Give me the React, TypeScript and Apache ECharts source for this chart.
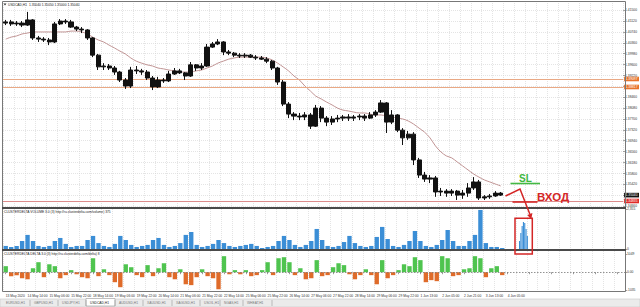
import { useEffect, useRef } from 'react';
import * as echarts from 'echarts';

const timeLabels = [
  '13 May 2020', '14 May 14:00', '15 May 06:00', '15 May 22:00', '18 May 14:00', '19 May 06:00',
  '19 May 22:00', '20 May 14:00', '21 May 06:00', '21 May 22:00', '22 May 14:00', '25 May 06:00',
  '25 May 22:00', '26 May 14:00', '27 May 06:00', '27 May 22:00', '28 May 14:00', '29 May 06:00',
  '29 May 22:00', '1 Jun 13:00', '2 Jun 05:00', '2 Jun 21:00', '3 Jun 13:00', '4 Jun 05:00',
];

// grid / tick positions of the price scale
const priceTicks = [
  1.3466, 1.3504, 1.3542, 1.358, 1.3618, 1.3656, 1.3694, 1.3732, 1.377, 1.3808,
  1.3846, 1.3884, 1.3922, 1.396, 1.3998, 1.4036, 1.4074, 1.4112, 1.415,
];
// visible price labels (1.38840 and 1.35040 are covered by the level tags)
const priceLabels = [
  1.3466, 1.3542, 1.358, 1.3618, 1.3656, 1.3694, 1.3732, 1.377, 1.3808,
  1.3846, 1.3922, 1.396, 1.3998, 1.4036, 1.4074, 1.4112, 1.415,
];

// [open, close, low, high]
const candles = [
  [1.4105, 1.4109, 1.4098, 1.4116], [1.4109, 1.4102, 1.4095, 1.4116], [1.4102, 1.4105, 1.4095, 1.4112],
  [1.4105, 1.4098, 1.4091, 1.4112], [1.4098, 1.4116, 1.4095, 1.4144], [1.4116, 1.4053, 1.4046, 1.4119],
  [1.4053, 1.4049, 1.4039, 1.406], [1.4049, 1.4046, 1.4039, 1.4056], [1.4046, 1.4039, 1.4028, 1.4053],
  [1.4039, 1.4102, 1.4035, 1.4109], [1.4102, 1.4112, 1.4098, 1.4119], [1.4112, 1.4109, 1.4102, 1.4119],
  [1.4109, 1.4091, 1.4088, 1.4116], [1.4091, 1.4084, 1.4077, 1.4095], [1.4084, 1.4081, 1.407, 1.4091],
  [1.4081, 1.4053, 1.4046, 1.4084], [1.4053, 1.3993, 1.3986, 1.4056], [1.3993, 1.3952, 1.3941, 1.3997],
  [1.3952, 1.3955, 1.3941, 1.3965], [1.3955, 1.3948, 1.3941, 1.3962], [1.3948, 1.3934, 1.3924, 1.3955],
  [1.3934, 1.3906, 1.3899, 1.3938], [1.3906, 1.3885, 1.3875, 1.3913], [1.3885, 1.3941, 1.3878, 1.3952],
  [1.3941, 1.3938, 1.3927, 1.3955], [1.3938, 1.3934, 1.3924, 1.3945], [1.3934, 1.3913, 1.3906, 1.3941],
  [1.3913, 1.3882, 1.3871, 1.392], [1.3882, 1.3906, 1.3878, 1.3917], [1.3906, 1.3903, 1.3896, 1.3913],
  [1.3903, 1.3927, 1.3899, 1.3938], [1.3927, 1.3938, 1.3924, 1.3948], [1.3938, 1.3931, 1.3927, 1.3945],
  [1.3931, 1.392, 1.3906, 1.3934], [1.392, 1.3959, 1.3917, 1.3969], [1.3959, 1.3948, 1.3938, 1.3962],
  [1.3948, 1.3955, 1.3941, 1.3965], [1.3955, 1.4021, 1.3952, 1.4032], [1.4021, 1.4032, 1.4018, 1.4039],
  [1.4032, 1.4039, 1.4028, 1.4049], [1.4039, 1.4004, 1.3993, 1.4042], [1.4004, 1.4, 1.3993, 1.4011],
  [1.4, 1.3993, 1.3986, 1.4004], [1.3993, 1.399, 1.3983, 1.4], [1.399, 1.3993, 1.3983, 1.4],
  [1.3993, 1.3986, 1.3983, 1.3997], [1.3986, 1.3983, 1.3976, 1.3993], [1.3983, 1.3979, 1.3976, 1.399],
  [1.3979, 1.3972, 1.3965, 1.3986], [1.3972, 1.3948, 1.3941, 1.3976], [1.3948, 1.3899, 1.3889, 1.3952],
  [1.3899, 1.3822, 1.3815, 1.3906], [1.3822, 1.3787, 1.3773, 1.3829], [1.3787, 1.378, 1.3766, 1.3794],
  [1.378, 1.3777, 1.3766, 1.3791], [1.3777, 1.3784, 1.3766, 1.3794], [1.3784, 1.3745, 1.3735, 1.3791],
  [1.3745, 1.3808, 1.3742, 1.3819], [1.3808, 1.3773, 1.3759, 1.3815], [1.3773, 1.3759, 1.3745, 1.378],
  [1.3759, 1.377, 1.3749, 1.378], [1.377, 1.3773, 1.3759, 1.3784], [1.3773, 1.3777, 1.3763, 1.3784],
  [1.3777, 1.3773, 1.3763, 1.3787], [1.3773, 1.3777, 1.3763, 1.3784], [1.3777, 1.378, 1.3766, 1.3787],
  [1.378, 1.3773, 1.3763, 1.3787], [1.3773, 1.3784, 1.377, 1.3794], [1.3784, 1.3794, 1.3777, 1.3801],
  [1.3794, 1.3826, 1.3791, 1.3836], [1.3826, 1.3759, 1.3721, 1.3829], [1.3759, 1.3784, 1.3752, 1.3801],
  [1.3784, 1.3731, 1.3724, 1.3787], [1.3731, 1.3704, 1.3679, 1.3738], [1.3704, 1.3717, 1.3697, 1.3728],
  [1.3717, 1.3627, 1.3609, 1.3724], [1.3627, 1.3574, 1.3564, 1.3634], [1.3574, 1.356, 1.355, 1.3585],
  [1.356, 1.3564, 1.3546, 1.3574], [1.3564, 1.3515, 1.3498, 1.3571], [1.3515, 1.3518, 1.3501, 1.3529],
  [1.3518, 1.3511, 1.3498, 1.3525], [1.3511, 1.3518, 1.3501, 1.3525], [1.3518, 1.3504, 1.3487, 1.3522],
  [1.3504, 1.3511, 1.3491, 1.3522], [1.3511, 1.3529, 1.3498, 1.3546], [1.3529, 1.355, 1.3522, 1.3567],
  [1.355, 1.3494, 1.3487, 1.3557], [1.3494, 1.3498, 1.3487, 1.3504], [1.3498, 1.3501, 1.3491, 1.3508],
  [1.3501, 1.3511, 1.3498, 1.3518], [1.3511, 1.3504, 1.3501, 1.3515],
];

const maValues = [
  1.4049, 1.4056, 1.406, 1.4067, 1.407, 1.4074, 1.4074, 1.4074, 1.4074, 1.4074,
  1.4074, 1.4074, 1.4077, 1.4077, 1.4074, 1.4067, 1.4056, 1.4046, 1.4039, 1.4028,
  1.4018, 1.4007, 1.3997, 1.3983, 1.3972, 1.3965, 1.3959, 1.3955, 1.3948, 1.3945,
  1.3941, 1.3938, 1.3934, 1.3934, 1.3934, 1.3938, 1.3941, 1.3948, 1.3955, 1.3965,
  1.3972, 1.3979, 1.3983, 1.3986, 1.3986, 1.3986, 1.3986, 1.3986, 1.3983, 1.3976,
  1.3965, 1.3952, 1.3938, 1.392, 1.3906, 1.3885, 1.3868, 1.385, 1.384, 1.3829,
  1.3819, 1.3808, 1.3801, 1.3798, 1.3794, 1.3791, 1.3791, 1.3787, 1.3784, 1.3784,
  1.378, 1.3777, 1.3773, 1.377, 1.3763, 1.3752, 1.3738, 1.3724, 1.3704, 1.3676,
  1.3655, 1.3641, 1.3634, 1.362, 1.3606, 1.3592, 1.3578, 1.3567, 1.3557, 1.355,
  1.3543, 1.3536,
];

const volumeValues = [
  180, 120, 180, 470, 830, 470, 180, 120, 180, 470,
  650, 300, 120, 180, 180, 530, 770, 350, 180, 120,
  300, 770, 530, 240, 120, 180, 240, 530, 650, 240,
  120, 180, 350, 830, 1000, 240, 120, 180, 300, 530,
  350, 180, 120, 180, 240, 300, 180, 60, 120, 180,
  470, 770, 530, 240, 120, 240, 470, 1180, 530, 180,
  120, 180, 410, 770, 350, 180, 120, 180, 710, 1300,
  590, 180, 120, 240, 470, 1060, 470, 180, 120, 240,
  530, 1120, 470, 180, 180, 470, 830, 2300, 350, 120,
  120, 60,
];

const deltaValues = [
  350, -230, -170, -350, -410, 230, 580, -290, 460, 350,
  -350, -170, 120, -120, -290, -350, 810, -230, 170, -170,
  -580, -870, 460, 290, -170, -290, 410, -230, 230, 520,
  -290, -410, 170, -700, -750, -290, 170, -230, -350, -990,
  930, -120, 120, -120, 120, -230, -170, 120, 580, -170,
  810, 870, 580, -170, 230, -410, -350, 700, -230, -170,
  290, 520, 410, -120, -410, -170, 170, -170, -700, 700,
  -350, -170, 120, 460, 350, 870, 700, -580, -460, -520,
  930, 810, -230, -170, 170, 230, 930, 810, -290, 230,
  350, -170,
];

const volumeTicks = [0, 2355];
const deltaTicks = [-1035, 0, 1049];
const upperLevel = 1.39097;
const lowerLevel = 1.38817;
const entryLevel = 1.34835;
const bidPrice = 1.3504;
const tabNames = ['EURUSD,H1', 'GBPUSD,H1', 'USDJPY,H1', 'USDCAD,H1', 'AUDUSD,H1', 'XAUUSD,H1', 'XAGUSD,H1', 'USOIL,H1', 'NGAS,H1', 'WHEAT,H1'];
const tabStarts = [2, 30, 58, 86, 115, 143, 172, 200, 220, 243, 272];
const activeTab = 3;
const annotBarTops = [241, 233, 226, 222, 223, 229, 236];

const SLOTS = 114;
const FONT = '"Liberation Sans", Arial, sans-serif';
const FS = 3.3;

export default function App() {
  const ref = useRef<HTMLDivElement>(null);
  useEffect(() => {
    const chart = echarts.init(ref.current!, null, { renderer: 'svg' });
    const slots = Array.from({ length: SLOTS }, (_, i) => String(i));
    const gridLine = { color: '#d2d2d2', width: 0.6, type: [1, 1] as number[] };

    const xAxes = [0, 1, 2].map((i) => ({
      type: 'category',
      gridIndex: i,
      data: slots,
      boundaryGap: true,
      axisLine: { show: false },
      axisTick: i === 2
        ? { show: true, interval: 3, alignWithLabel: true, length: 2, lineStyle: { color: '#555', width: 0.6 } }
        : { show: false },
      axisLabel: i === 2
        ? {
            show: true, interval: 3, fontSize: FS, color: '#333', fontFamily: FONT, align: 'left', margin: 3,
            formatter: (_v: string, idx: number) => timeLabels[idx / 4] ?? '',
          }
        : { show: false },
      splitLine: { show: true, interval: 1, lineStyle: gridLine },
    }));

    const labelCommon = { fontSize: FS, color: '#333', fontFamily: FONT, margin: 2 };

    const markLabel = (text: string, bg: string) => ({
      show: true, position: 'end', formatter: text, backgroundColor: bg, color: '#fff',
      fontSize: FS, fontFamily: FONT, padding: [0.8, 1.5], distance: 1,
    });

    const graphics: any[] = [
      { type: 'rect', z: 50, silent: true, shape: { x: 2.5, y: 1.5, width: 623, height: 290 }, style: { fill: 'none', stroke: '#777', lineWidth: 1 } },
      { type: 'line', z: 50, silent: true, shape: { x1: 2, y1: 208, x2: 626, y2: 208 }, style: { stroke: '#4a4a4a', lineWidth: 2 } },
      { type: 'line', z: 50, silent: true, shape: { x1: 2, y1: 250, x2: 626, y2: 250 }, style: { stroke: '#4a4a4a', lineWidth: 2 } },
      { type: 'polygon', z: 50, silent: true, shape: { points: [[3.5, 3.5], [6.5, 3.5], [5, 5.5]] }, style: { fill: '#333' } },
      { type: 'text', z: 50, silent: true, x: 8, y: 4.5, style: { text: 'USDCAD,H1  1.35040 1.35050 1.35000 1.35040', fill: '#222', fontSize: FS, fontFamily: FONT, textVerticalAlign: 'middle' } },
      { type: 'text', z: 50, silent: true, x: 4, y: 211.5, style: { text: 'CLUSTERDELTA VOLUME 3.0 (3) http://ru.clusterdelta.com/volume) 375', fill: '#222', fontSize: FS, fontFamily: FONT, textVerticalAlign: 'middle' } },
      { type: 'text', z: 50, silent: true, x: 4, y: 253.5, style: { text: 'CLUSTERDELTA DELTA 3.0 (3) http://ru.clusterdelta.com/delta) 8', fill: '#222', fontSize: FS, fontFamily: FONT, textVerticalAlign: 'middle' } },
      { type: 'rect', z: 50, silent: true, shape: { x: 0, y: 299, width: 640, height: 8 }, style: { fill: '#ebebeb', stroke: '#c8c8c8', lineWidth: 0.6 } },
      { type: 'rect', z: 51, silent: true, shape: { x: tabStarts[activeTab], y: 298.5, width: tabStarts[activeTab + 1] - tabStarts[activeTab], height: 7.5 }, style: { fill: '#fff', stroke: '#999', lineWidth: 0.6 } },
      // annotations
      { type: 'line', z: 60, silent: true, shape: { x1: 510.5, y1: 183.5, x2: 540, y2: 183.5 }, style: { stroke: '#43b943', lineWidth: 1.6 } },
      { type: 'text', z: 60, silent: true, x: 519, y: 178.5, style: { text: 'SL', fill: '#3db83d', fontSize: 10, fontWeight: 'bold', fontFamily: FONT, textVerticalAlign: 'middle' } },
      { type: 'line', z: 60, silent: true, shape: { x1: 512.5, y1: 202, x2: 537.5, y2: 202 }, style: { stroke: '#d42626', lineWidth: 1.6 } },
      { type: 'text', z: 60, silent: true, x: 537, y: 197, style: { text: 'ВХОД', fill: '#d42626', fontSize: 11.5, fontWeight: 'bold', fontFamily: FONT, textVerticalAlign: 'middle' } },
      { type: 'polyline', z: 60, silent: true, shape: { points: [[505.5, 196], [520, 189], [529.8, 214]] }, style: { stroke: '#d42626', lineWidth: 1.5, fill: 'none' } },
      { type: 'polygon', z: 60, silent: true, shape: { points: [[531.3, 219.5], [532.4, 213], [527.3, 215]] }, style: { fill: '#d42626' } },
      ...annotBarTops.map((top, i) => ({
        type: 'rect', z: 59, silent: true, shape: { x: 519 + i * 1.3, y: top, width: 1.1, height: 249 - top }, style: { fill: '#3b8ed6' },
      })),
      { type: 'rect', z: 60, silent: true, shape: { x: 515, y: 218.3, width: 17.3, height: 35.7 }, style: { fill: 'none', stroke: '#d42626', lineWidth: 1.5 } },
    ];
    tabNames.forEach((name, i) => {
      graphics.push({ type: 'text', z: 52, silent: true, x: tabStarts[i] + 4, y: 303, style: { text: name, fill: i === activeTab ? '#222' : '#777', fontSize: FS, fontFamily: FONT, textVerticalAlign: 'middle' } });
      graphics.push({ type: 'line', z: 52, silent: true, shape: { x1: tabStarts[i + 1], y1: 300, x2: tabStarts[i + 1], y2: 306 }, style: { stroke: '#999', lineWidth: 0.6 } });
    });

    chart.setOption({
      animation: false,
      backgroundColor: '#ffffff',
      grid: [
        { left: 3, right: 15, top: 3, height: 204 },
        { left: 3, right: 15, top: 209, height: 40 },
        { left: 3, right: 15, top: 251, height: 40 },
      ],
      xAxis: xAxes,
      yAxis: [
        {
          type: 'value', gridIndex: 0, position: 'right', min: 1.34625, max: 1.41751,
          axisLine: { show: false },
          axisTick: { show: true, customValues: priceTicks, length: 2, lineStyle: { color: '#666', width: 0.6 } },
          axisLabel: { ...labelCommon, customValues: priceLabels, formatter: (v: number) => v.toFixed(5) },
          splitLine: { show: true, lineStyle: gridLine },
        },
        {
          type: 'value', gridIndex: 1, position: 'right', min: 0, max: 2355,
          axisLine: { show: false },
          axisTick: { show: true, customValues: volumeTicks, length: 2, lineStyle: { color: '#666', width: 0.6 } },
          axisLabel: { ...labelCommon, customValues: volumeTicks },
          splitLine: { show: false },
        },
        {
          type: 'value', gridIndex: 2, position: 'right', min: -1090, max: 1230,
          axisLine: { show: false },
          axisTick: { show: true, customValues: deltaTicks, length: 2, lineStyle: { color: '#666', width: 0.6 } },
          axisLabel: { ...labelCommon, customValues: deltaTicks, formatter: (v: number) => (v === 0 ? '0.00' : String(v)) },
          splitLine: { show: false },
        },
      ],
      series: [
        {
          type: 'line', xAxisIndex: 0, yAxisIndex: 0, data: maValues, showSymbol: false, smooth: 0.3, z: 1,
          lineStyle: { color: '#c09494', width: 1 },
        },
        {
          type: 'candlestick', xAxisIndex: 0, yAxisIndex: 0, data: candles, barWidth: 4.6, z: 3,
          itemStyle: { color: '#111', color0: '#111', borderColor: '#111', borderColor0: '#111', borderWidth: 1 },
          markLine: {
            symbol: 'none', silent: true, precision: 5, z: 2,
            data: [
              { yAxis: upperLevel, lineStyle: { color: '#e9a985', width: 1, type: 'solid' }, label: markLabel(upperLevel.toFixed(5), '#e8732c') },
              { yAxis: lowerLevel, lineStyle: { color: '#e9a985', width: 1, type: 'solid' }, label: markLabel(lowerLevel.toFixed(5), '#e8732c') },
              { yAxis: entryLevel, lineStyle: { color: '#dd8c8c', width: 1, type: 'solid' }, label: markLabel(entryLevel.toFixed(5), '#e02a2a') },
              { yAxis: bidPrice, lineStyle: { color: 'rgba(0,0,0,0)', width: 0 }, label: markLabel(bidPrice.toFixed(5), '#111') },
            ],
          },
        },
        {
          type: 'bar', xAxisIndex: 1, yAxisIndex: 1, data: volumeValues, barWidth: '80%',
          itemStyle: { color: '#3b8ed6' },
        },
        {
          type: 'bar', xAxisIndex: 2, yAxisIndex: 2, barWidth: '80%',
          data: deltaValues.map((v) => ({ value: v, itemStyle: { color: v >= 0 ? '#4fc44f' : '#df6b2a' } })),
          markLine: {
            symbol: 'none', silent: true, label: { show: false }, precision: 2,
            lineStyle: { color: '#777', type: [1.5, 1.5], width: 0.8 },
            data: [{ yAxis: 0 }],
          },
        },
      ],
      graphic: graphics,
    });
    return () => chart.dispose();
  }, []);
  return <div ref={ref} style={{ position: 'fixed', left: 0, top: 0, width: 640, height: 307 }} />;
}
